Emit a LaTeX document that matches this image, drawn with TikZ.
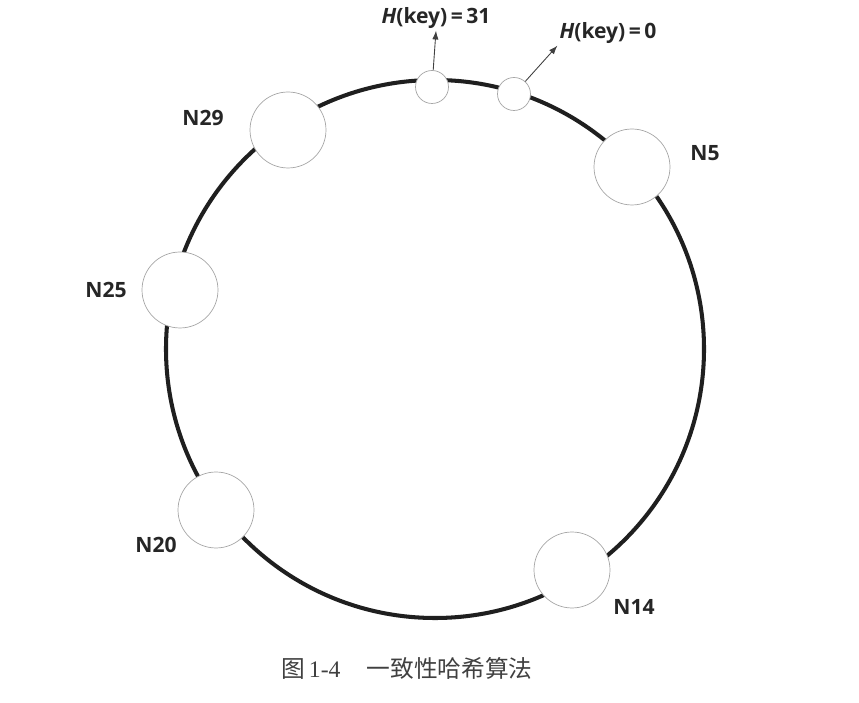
\documentclass[tikz,border=0pt]{standalone}
\usepackage{fontspec}
\setmainfont{Open Sans}
\newfontfamily\cjkfont{Noto Sans CJK SC}
\newfontfamily\numfont{Liberation Serif}
\usetikzlibrary{arrows.meta,positioning}

\begin{document}
\begin{tikzpicture}[
  x=0.02cm, y=0.02cm,
  font=\fontsize{12}{14}\selectfont\bfseries,
  ring/.style={line width=2.3pt, draw=black!88},
  srv/.style={circle, draw=black!35, line width=0.4pt, fill=white,
    minimum size=1.52cm, inner sep=0pt},
  keypt/.style={circle, draw=black!35, line width=0.4pt, fill=white,
    minimum size=0.66cm, inner sep=0pt},
  lbl/.style={inner sep=1pt, text=black!85},
  arr/.style={-{Latex[length=5pt,width=3.6pt]}, line width=0.5pt, draw=black!75}
]
\useasboundingbox (0,0) rectangle (859,703);

% ── hash ring ────────────────────────────────────────────────────────────
\coordinate (c) at (435,354);
\draw[ring] (c) circle[radius=269];

% ── server nodes ─────────────────────────────────────────────────────────
\node[srv] (n29) at (288,573) {};
\node[srv] (n5)  at (632,536) {};
\node[srv] (n25) at (180,413) {};
\node[srv] (n20) at (216,193) {};
\node[srv] (n14) at (572,133) {};

\node[lbl] (l29) at (203,585) {N29};
\node[lbl] (l5)  at (705,550) {N5};
\node[lbl] (l25) at (106,413) {N25};
\node[lbl] (l20) at (156,158) {N20};
\node[lbl] (l14) at (634,96)  {N14};

% ── keys ─────────────────────────────────────────────────────────────────
\node[keypt] (k31) at (432,616) {};
\node[keypt] (k0)  at (514,609) {};

\node[lbl] (h31) at (436,685) {\textit{H}(key)\,=\,31};
\node[lbl] (h0)  at (608,670) {\textit{H}(key)\,=\,0};

\draw[arr] (k31) -- (h31.south);
\draw[arr] (k0) -- (h0.south west);

% ── caption ──────────────────────────────────────────────────────────────
\node[font=\fontsize{13.5}{16}\selectfont\mdseries, text=black!75] (cap) at (407,35)
  {\cjkfont 图\,\numfont 1-4\hspace{1.1em}\cjkfont 一致性哈希算法};

\end{tikzpicture}
\end{document}
